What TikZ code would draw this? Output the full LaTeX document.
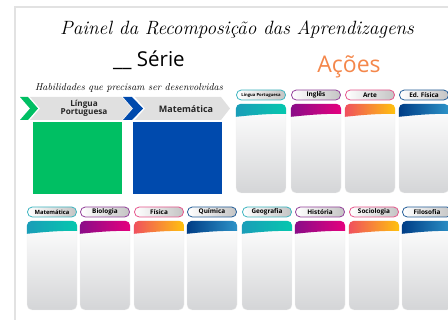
\documentclass[tikz,border=0pt]{standalone}
\usepackage{fontspec}
\newfontfamily\sans{Open Sans}
\usepackage{xcolor}
\usepackage{tikz}
\usetikzlibrary{positioning,calc}

\definecolor{framegray}{HTML}{E2E2E2}
\definecolor{bandgray}{HTML}{E0E0E0}
\definecolor{lpgreen}{HTML}{00BF63}
\definecolor{matblue}{HTML}{004AAD}
\definecolor{acoes}{HTML}{F4874B}
\definecolor{cardgray}{HTML}{D4D5D7}
\definecolor{pillgray}{HTML}{C4C4C4}
\definecolor{tealL}{HTML}{1A9DB8}
\definecolor{tealR}{HTML}{05C8AE}
\definecolor{tealB}{HTML}{3DB5C0}
\definecolor{magL}{HTML}{8A0C88}
\definecolor{magR}{HTML}{E5007E}
\definecolor{magB}{HTML}{93409A}
\definecolor{orgL}{HTML}{F0505E}
\definecolor{orgR}{HTML}{FFC20E}
\definecolor{orgB}{HTML}{E6558C}
\definecolor{bluL}{HTML}{003D86}
\definecolor{bluR}{HTML}{2D93C8}
\definecolor{bluB}{HTML}{245E98}

\begin{document}
\begin{tikzpicture}[x=1pt,y=-1pt,
    pill/.style={rectangle,rounded corners=4.8pt,minimum width=49pt,minimum height=10pt,
      inner sep=0pt,line width=0.8pt,left color=white,right color=pillgray,
      font=\sans\bfseries\fontsize{6.4}{7}\selectfont},
    card/.style={rectangle,rounded corners=5pt,minimum width=50pt,minimum height=89pt,
      inner sep=0pt,draw=gray!12,top color=white,bottom color=cardgray},
    band/.style={font=\sans\bfseries\fontsize{8.2}{9}\selectfont,align=center,text=black!85}]
    \useasboundingbox (0,0) rectangle (448,320);
    \clip (0,0) rectangle (448,320);
    % Frame
    \draw[framegray,line width=1.6pt] (15,7) rectangle (470,345);
    % Titles
    \node (title) at (237,30) {\itshape\fontsize{19.2}{22}\selectfont Painel da Recomposição das Aprendizagens};
    \node (serie) at (149,60) {\sans\fontsize{20.5}{24}\selectfont \_\_ Série};
    \node[text=acoes] (acoes) at (349,67) {\sans\fontsize{23}{26}\selectfont Ações};
    \node (habil) at (129,88) {\itshape\fontsize{10}{12}\selectfont Habilidades que precisam ser desenvolvidas};
    % Arrow bands
    \fill[bandgray] (30,97) -- (122,97) -- (132,108.5) -- (122,120) -- (30,120) -- (40,108.5) -- cycle;
    \fill[bandgray] (135,97) -- (221,97) -- (230,108.5) -- (221,120) -- (135,120) -- (145,108.5) -- cycle;
    \fill[lpgreen] (20,97) -- (28,97) -- (38,108.5) -- (28,120) -- (20,120) -- (30,108.5) -- cycle;
    \fill[matblue] (123,97) -- (132,97) -- (143,108.5) -- (132,120) -- (123,120) -- (133,108.5) -- cycle;
    \node[band] (lp) at (84,108.5) {Língua\\[-1pt]Portuguesa};
    \node[band,font=\sans\bfseries\fontsize{9}{10}\selectfont] (mat) at (186,109.5) {Matemática};
    % Skill boxes
    \fill[lpgreen] (33,122) rectangle (122,194);
    \fill[matblue] (133,122) rectangle (222,194);
    % Action cards, top row
    \foreach \x/\lab/\col [count=\i] in {236/{\fontsize{4.2}{5}\selectfont Língua Portuguesa}/teal,
        291/Inglês/mag,345/Arte/org,399/Ed. Física/blu}{
      \node[pill,draw=\col B] (pa\i) at (\x+25,95) {\lab};
      \node[card] (ca\i) at (\x+25,148.5) {};
      \begin{scope}
        \clip[rounded corners=5pt] (ca\i.north west) rectangle (ca\i.south east);
        \shade[left color=\col L,right color=\col R] (ca\i.north west) -- (ca\i.north east) -- ++(0,10)
          .. controls +(-20,0) and +(20,-2) .. ($(ca\i.north west)+(0,13)$) -- cycle;
      \end{scope}
    }
    % Action cards, bottom row
    \foreach \x/\lab/\col [count=\i] in {27/{\fontsize{5.8}{6}\selectfont Matemática}/teal,80/Biologia/mag,
        134/Física/org,187/Química/blu,242/Geografia/teal,295/História/mag,
        349/Sociologia/org,402/Filosofia/blu}{
      \node[pill,draw=\col B] (pb\i) at (\x+25,212) {\lab};
      \node[card] (cb\i) at (\x+25,265.5) {};
      \begin{scope}
        \clip[rounded corners=5pt] (cb\i.north west) rectangle (cb\i.south east);
        \shade[left color=\col L,right color=\col R] (cb\i.north west) -- (cb\i.north east) -- ++(0,10)
          .. controls +(-20,0) and +(20,-2) .. ($(cb\i.north west)+(0,13)$) -- cycle;
      \end{scope}
    }
\end{tikzpicture}
\end{document}
